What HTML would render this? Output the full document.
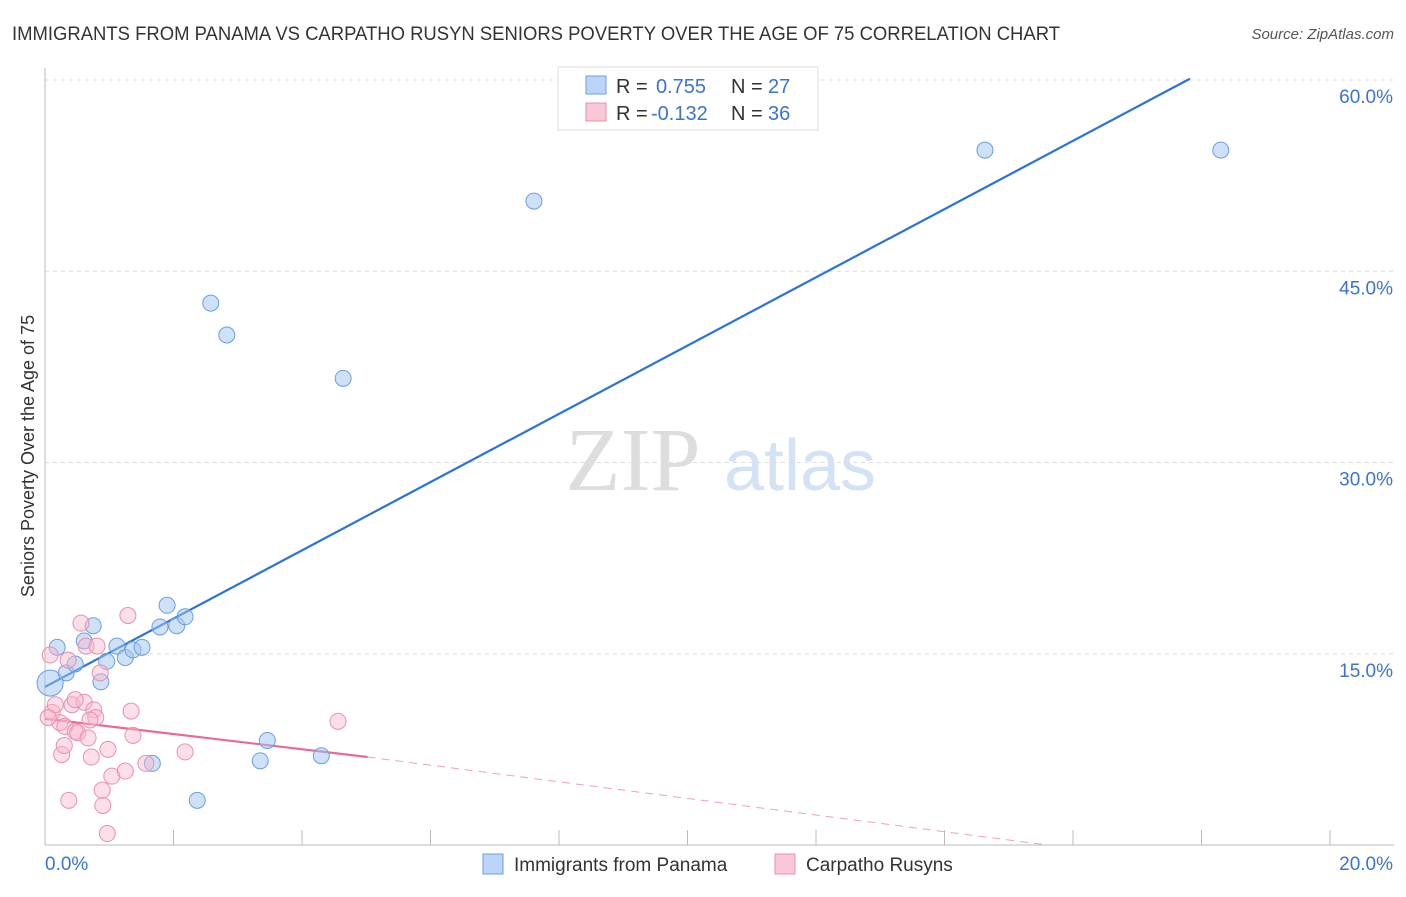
<!DOCTYPE html>
<html><head><meta charset="utf-8"><style>
body{margin:0;background:#fff;font-family:"Liberation Sans",sans-serif}
</style></head><body>
<svg id="chart" width="1406" height="892" xmlns="http://www.w3.org/2000/svg" font-family="Liberation Sans, sans-serif">
<text x="12" y="40" font-size="19" fill="#333" textLength="1048" lengthAdjust="spacingAndGlyphs">IMMIGRANTS FROM PANAMA VS CARPATHO RUSYN SENIORS POVERTY OVER THE AGE OF 75 CORRELATION CHART</text>
<text x="1394" y="39" font-size="15" fill="#555" font-style="italic" text-anchor="end">Source: ZipAtlas.com</text>
<text transform="translate(34,456) rotate(-90)" font-size="18" fill="#333" text-anchor="middle">Seniors Poverty Over the Age of 75</text>
<g>
<text x="633" y="490" font-size="90" fill="#ddd" font-family="Liberation Serif, serif" text-anchor="middle">ZIP</text>
<text x="800" y="490" font-size="72" fill="#d3e2f5" text-anchor="middle">atlas</text>
</g>
<g id="grid"></g><g id="axes"></g><g id="lines"></g><g id="points"></g>
<g>
<rect x="558" y="67" width="260" height="63" fill="#fff" stroke="#ddd"/>
<rect x="586" y="76" width="20" height="18" fill="#bcd4f7" stroke="#6b9fe0"/>
<text x="616" y="93" font-size="20" fill="#333">R =</text>
<text x="656" y="93" font-size="20" fill="#3a74d0">0.755</text>
<text x="731" y="93" font-size="20" fill="#333">N =</text>
<text x="768" y="93" font-size="20" fill="#3a74d0">27</text>
<rect x="586" y="103" width="20" height="18" fill="#f9c8d6" stroke="#ec8fab"/>
<text x="616" y="120" font-size="20" fill="#333">R =</text>
<text x="651" y="120" font-size="20" fill="#3a74d0">-0.132</text>
<text x="731" y="120" font-size="20" fill="#333">N =</text>
<text x="768" y="120" font-size="20" fill="#3a74d0">36</text>
</g>
<g>
<rect x="483" y="854" width="20" height="20" fill="#bcd4f7" stroke="#6b9fe0"/>
<text x="514" y="871" font-size="19" fill="#333">Immigrants from Panama</text>
<rect x="775" y="854" width="20" height="20" fill="#f9c8d6" stroke="#ec8fab"/>
<text x="806" y="871" font-size="19" fill="#333">Carpatho Rusyns</text>
</g>
</svg>
<script>
const blueX=[0.08,0.19,0.33,0.47,0.61,0.75,0.87,0.96,1.12,1.25,1.37,1.51,1.67,1.79,1.90,2.05,2.18,2.37,2.58,2.83,3.35,3.46,4.30,4.64,7.61,14.63,18.30];
const blueY=[12.7,15.5,13.5,14.2,16.0,17.2,12.8,14.4,15.6,14.7,15.3,15.5,6.4,17.1,18.8,17.2,17.9,3.5,42.5,40.0,6.6,8.2,7.0,36.6,50.5,54.5,54.5];
const pinkX=[0.08,0.11,0.16,0.23,0.26,0.31,0.36,0.37,0.42,0.47,0.51,0.56,0.61,0.64,0.67,0.72,0.76,0.79,0.81,0.86,0.89,0.90,0.97,0.98,1.04,1.25,1.29,1.34,1.37,1.57,2.18,4.56,0.05,0.47,0.70,0.30];
const pinkY=[14.9,10.4,11.0,9.6,7.1,9.3,14.5,3.5,11.0,8.9,8.8,17.4,11.2,15.6,8.4,6.9,10.6,10.0,15.6,13.5,4.3,3.1,0.9,7.5,5.4,5.8,18.0,10.5,8.6,6.4,7.3,9.7,10.0,11.4,9.8,7.8];
const yTicks=[15,30,45,60];
const yTickLabels=["15.0%","30.0%","45.0%","60.0%"];
const blueLine=[[0,12.4],[17.82,60.1]];
const pinkLine=[[0,9.9],[5.02,6.9]];
const pinkDash=[[5.02,6.9],[15.6,0]];
const NS="http://www.w3.org/2000/svg";
const X=v=>45+v*64.25, Y=v=>845-v*12.75;
function mk(p,t,a){const e=document.createElementNS(NS,t);for(const k in a)e.setAttribute(k,a[k]);p.appendChild(e);return e;}
const grid=document.getElementById('grid'),axes=document.getElementById('axes'),lines=document.getElementById('lines'),pts=document.getElementById('points');
yTicks.forEach((t,i)=>{const l=mk(grid,'line',{x1:45,x2:1394,y1:Y(t),y2:Y(t),stroke:'#ddd','stroke-dasharray':'4,4'});


const tx=mk(axes,'text',{x:1393,y:Y(t)+23,'font-size':19,fill:'#3a74d0','text-anchor':'end'});tx.textContent=yTickLabels[i];

});
const ax=mk(axes,'line',{x1:45,x2:1394,y1:845,y2:845,stroke:'#bbb'});


const ay=mk(axes,'line',{x1:45,x2:45,y1:68,y2:845,stroke:'#bbb'});


for(let i=0;i<=10;i++){const t=mk(axes,'line',{x1:X(i*2),x2:X(i*2),y1:830,y2:845,stroke:'#bbb'});

}
const x0=mk(axes,'text',{x:45,y:870,'font-size':19,fill:'#3a74d0'});x0.textContent='0.0%';


const x1=mk(axes,'text',{x:1393,y:870,'font-size':19,fill:'#3a74d0','text-anchor':'end'});x1.textContent='20.0%';


function ln(d,c,dash,name){const l=mk(lines,'line',{x1:X(d[0][0]),y1:Y(d[0][1]),x2:X(d[1][0]),y2:Y(d[1][1]),stroke:c,'stroke-width':dash?1:2.2});if(dash)l.setAttribute('stroke-dasharray','8,6');

}
ln(pinkDash,'#f0a0b8',true,'pink-trend-extension');
blueX.forEach((v,i)=>{const c=mk(pts,'circle',{cx:X(v),cy:Y(blueY[i]),r:i==0?13:8,fill:'rgba(160,195,240,0.5)',stroke:'#6b9fe0','stroke-width':1});

});
pinkX.forEach((v,i)=>{const c=mk(pts,'circle',{cx:X(v),cy:Y(pinkY[i]),r:8,fill:'rgba(248,185,205,0.45)',stroke:'#ec8fab','stroke-width':1});

});
ln(blueLine,'#2a74d6',false,'panama-trend-line');
ln(pinkLine,'#e8699a',false,'rusyn-trend-line');
</script>
</body></html>
